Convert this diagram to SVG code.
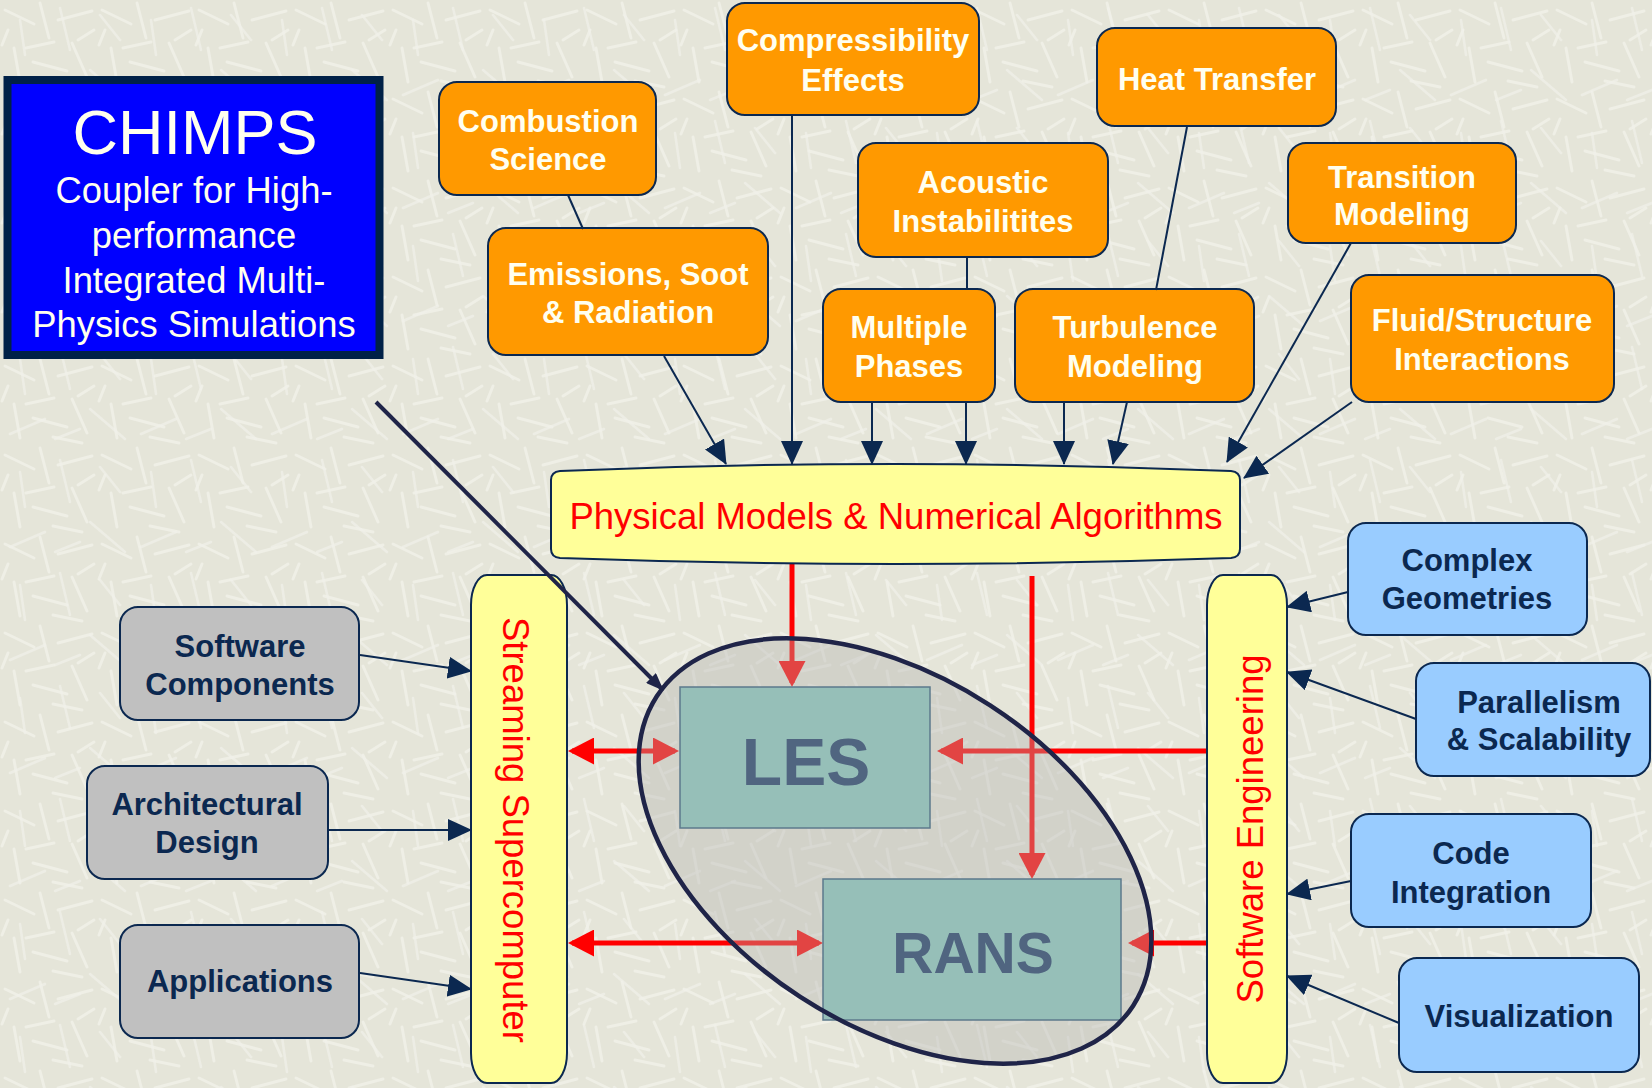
<svg xmlns="http://www.w3.org/2000/svg" width="1652" height="1088" viewBox="0 0 1652 1088">
<style>
.bx{stroke:#0B2850;stroke-width:2}
.or{fill:#FF9900}
.gr{fill:#C0C0C0}
.bl{fill:#99CCFF}
.ye{fill:#FFFF99}
.tw{font-family:"Liberation Sans",Arial,sans-serif;font-weight:bold;font-size:31px;fill:#FFFFF0;text-anchor:middle}
.tn{font-family:"Liberation Sans",Arial,sans-serif;font-weight:bold;font-size:31px;fill:#0B2850;text-anchor:middle}
.tr{font-family:"Liberation Sans",Arial,sans-serif;font-size:36.5px;fill:#FF0000;text-anchor:middle}
.tc{font-family:"Liberation Sans",Arial,sans-serif;fill:#FFFFEE;text-anchor:middle}
.tm{font-family:"Liberation Sans",Arial,sans-serif;font-weight:bold;fill:#506580;text-anchor:middle}
.nv{stroke:#0B2850;stroke-width:2;fill:none}
.rd{stroke:#FF0000;stroke-width:5;fill:none}
.mb{fill:#96BFB8;stroke:#5C7A8C;stroke-width:1.5}
</style>
<defs>
<pattern id="bg" width="97" height="89" patternUnits="userSpaceOnUse">
<rect width="97" height="89" fill="#E5E5D9"/>
<g stroke="#EFEFE6" stroke-width="3" stroke-linecap="round">
<line x1="5" y1="10" x2="34" y2="24"/>
<line x1="40" y1="3" x2="49" y2="38"/>
<line x1="58" y1="20" x2="92" y2="11"/>
<line x1="14" y1="48" x2="20" y2="82"/>
<line x1="33" y1="62" x2="67" y2="71"/>
<line x1="72" y1="43" x2="87" y2="77"/>
<line x1="54" y1="42" x2="26" y2="48"/>
<line x1="8" y1="30" x2="2" y2="45"/>
<line x1="53" y1="81" x2="82" y2="87"/>
<line x1="94" y1="30" x2="78" y2="40"/>
</g>
</pattern>
<pattern id="bg2" width="131" height="113" patternUnits="userSpaceOnUse">
<g stroke="#F1F1EA" stroke-width="2.5" stroke-linecap="round" opacity="0.7">
<line x1="10" y1="95" x2="45" y2="80"/>
<line x1="60" y1="8" x2="70" y2="50"/>
<line x1="90" y1="70" x2="125" y2="100"/>
<line x1="100" y1="15" x2="120" y2="40"/>
<line x1="20" y1="20" x2="25" y2="55"/>
<line x1="55" y1="100" x2="80" y2="90"/>
</g>
</pattern>
<marker id="ah" markerUnits="userSpaceOnUse" markerWidth="24" markerHeight="22" viewBox="0 0 24 22" refX="23" refY="11" orient="auto"><path d="M0,0L24,11L0,22z" fill="#0B2850"/></marker>
<marker id="ahs" markerUnits="userSpaceOnUse" markerWidth="18" markerHeight="14" viewBox="0 0 18 14" refX="17" refY="7" orient="auto"><path d="M0,0L18,7L0,14z" fill="#1F2448"/></marker>
<marker id="rh" markerUnits="userSpaceOnUse" markerWidth="26" markerHeight="27" viewBox="0 0 26 27" refX="22" refY="13.5" orient="auto-start-reverse"><path d="M0,0L26,13.5L0,27z" fill="#FF0000"/></marker>
</defs>
<rect width="1652" height="1088" fill="url(#bg)"/>
<rect width="1652" height="1088" fill="url(#bg2)"/>

<g id="connectors-under">
<path class="rd" d="M792,560V683" marker-end="url(#rh)"/>
<path class="rd" d="M1032,576V875" marker-end="url(#rh)"/>
<path class="rd" d="M1208,751H941" marker-end="url(#rh)"/>
<path class="rd" d="M1208,943H1132" marker-end="url(#rh)"/>
<path class="rd" d="M572,751H675" marker-start="url(#rh)" marker-end="url(#rh)"/>
<path class="rd" d="M572,943H819" marker-start="url(#rh)" marker-end="url(#rh)"/>
</g>

<g id="scope">
<ellipse cx="895" cy="851" rx="284" ry="174" transform="rotate(33 895 851)" fill="#B4B4B0" fill-opacity="0.38"/>
</g>

<g id="les">
<rect class="mb" x="680" y="687" width="250" height="141"/>
<text class="tm" x="806" y="785" font-size="66">LES</text>
</g>
<g id="rans">
<rect class="mb" x="823" y="879" width="298" height="141"/>
<text class="tm" x="973" y="973" font-size="57">RANS</text>
</g>
<g id="scope-outline">
<ellipse cx="895" cy="851" rx="284" ry="174" transform="rotate(33 895 851)" fill="none" stroke="#1F2448" stroke-width="4.5"/>
</g>

<g id="chimps">
<rect x="7.5" y="80" width="372" height="275" fill="#0000FF" stroke="#002147" stroke-width="8"/>
<text class="tc" x="195" y="154" font-size="63">CHIMPS</text>
<text class="tc" x="194" y="203" font-size="36.4">Coupler for High-</text>
<text class="tc" x="194" y="248" font-size="36.4">performance</text>
<text class="tc" x="194" y="293" font-size="36.4">Integrated Multi-</text>
<text class="tc" x="194" y="337" font-size="36.4">Physics Simulations</text>
</g>

<g id="combustion"><rect class="bx or" x="439" y="82" width="217" height="113" rx="18"/>
<text class="tw" x="548" y="132">Combustion</text><text class="tw" x="548" y="170">Science</text></g>
<g id="compressibility"><rect class="bx or" x="727" y="3" width="252" height="112" rx="18"/>
<text class="tw" x="853" y="51">Compressibility</text><text class="tw" x="853" y="91">Effects</text></g>
<g id="heat"><rect class="bx or" x="1097" y="28" width="239" height="98" rx="18"/>
<text class="tw" x="1217" y="90">Heat Transfer</text></g>
<g id="acoustic"><rect class="bx or" x="858" y="143" width="250" height="114" rx="18"/>
<text class="tw" x="983" y="193">Acoustic</text><text class="tw" x="983" y="232">Instabilitites</text></g>
<g id="transition"><rect class="bx or" x="1288" y="143" width="228" height="100" rx="18"/>
<text class="tw" x="1402" y="188">Transition</text><text class="tw" x="1402" y="225">Modeling</text></g>
<g id="emissions"><rect class="bx or" x="488" y="228" width="280" height="127" rx="18"/>
<text class="tw" x="628" y="285">Emissions, Soot</text><text class="tw" x="628" y="323">&amp; Radiation</text></g>
<g id="multiple"><rect class="bx or" x="823" y="289" width="172" height="113" rx="18"/>
<text class="tw" x="909" y="338">Multiple</text><text class="tw" x="909" y="377">Phases</text></g>
<g id="turbulence"><rect class="bx or" x="1015" y="289" width="239" height="113" rx="18"/>
<text class="tw" x="1135" y="338">Turbulence</text><text class="tw" x="1135" y="377">Modeling</text></g>
<g id="fluid"><rect class="bx or" x="1351" y="275" width="263" height="127" rx="18"/>
<text class="tw" x="1482" y="331">Fluid/Structure</text><text class="tw" x="1482" y="370">Interactions</text></g>

<g id="physical">
<path class="bx ye" d="M551,480Q551,472 560,471Q895,457 1231,471Q1240,472 1240,480L1240,549Q1240,557 1231,558Q895,570 560,558Q551,557 551,549Z"/>
<text class="tr" x="896" y="529">Physical Models &amp; Numerical Algorithms</text>
</g>

<g id="streaming">
<rect class="bx ye" x="471" y="575" width="96" height="508" rx="16" ry="30"/>
<text class="tr" x="503" y="830" transform="rotate(90 503 830)">Streaming Supercomputer</text>
</g>
<g id="software-eng">
<rect class="bx ye" x="1207" y="575" width="80" height="508" rx="16" ry="30"/>
<text class="tr" x="1263" y="829" transform="rotate(-90 1263 829)">Software Engineering</text>
</g>

<g id="softcomp"><rect class="bx gr" x="120" y="607" width="239" height="113" rx="18"/>
<text class="tn" x="240" y="657">Software</text><text class="tn" x="240" y="695">Components</text></g>
<g id="archdesign"><rect class="bx gr" x="87" y="766" width="241" height="113" rx="18"/>
<text class="tn" x="207" y="815">Architectural</text><text class="tn" x="207" y="853">Design</text></g>
<g id="applications"><rect class="bx gr" x="120" y="925" width="239" height="113" rx="18"/>
<text class="tn" x="240" y="992">Applications</text></g>

<g id="complex"><rect class="bx bl" x="1348" y="523" width="239" height="112" rx="18"/>
<text class="tn" x="1467" y="571">Complex</text><text class="tn" x="1467" y="609">Geometries</text></g>
<g id="parallel"><rect class="bx bl" x="1416" y="663" width="234" height="113" rx="18"/>
<text class="tn" x="1539" y="713">Parallelism</text><text class="tn" x="1539" y="750">&amp; Scalability</text></g>
<g id="code"><rect class="bx bl" x="1351" y="814" width="240" height="113" rx="18"/>
<text class="tn" x="1471" y="864">Code</text><text class="tn" x="1471" y="903">Integration</text></g>
<g id="visual"><rect class="bx bl" x="1399" y="958" width="240" height="114" rx="18"/>
<text class="tn" x="1519" y="1027">Visualization</text></g>

<g id="connectors">
<path class="nv" d="M568,195L583,229"/>
<path class="nv" d="M664,356L726,464" marker-end="url(#ah)"/>
<path class="nv" d="M792,115V464" marker-end="url(#ah)"/>
<path class="nv" d="M967,257V290"/>
<path class="nv" d="M872,402V464" marker-end="url(#ah)"/>
<path class="nv" d="M966,402V464" marker-end="url(#ah)"/>
<path class="nv" d="M1187,127L1156,290"/>
<path class="nv" d="M1064,402V464" marker-end="url(#ah)"/>
<path class="nv" d="M1127,402L1113,464" marker-end="url(#ah)"/>
<path class="nv" d="M1351,243L1227,462" marker-end="url(#ah)"/>
<path class="nv" d="M1352,402L1244,478" marker-end="url(#ah)"/>
<path d="M376,402L663,690" stroke="#1F2448" stroke-width="4" fill="none" marker-end="url(#ahs)"/>
<path class="nv" d="M360,655L471,671" marker-end="url(#ah)"/>
<path class="nv" d="M328,830H471" marker-end="url(#ah)"/>
<path class="nv" d="M360,973L471,989" marker-end="url(#ah)"/>
<path class="nv" d="M1348,592L1287,607" marker-end="url(#ah)"/>
<path class="nv" d="M1416,719L1287,672" marker-end="url(#ah)"/>
<path class="nv" d="M1351,881L1287,894" marker-end="url(#ah)"/>
<path class="nv" d="M1399,1023L1287,976" marker-end="url(#ah)"/>
</g>
</svg>
